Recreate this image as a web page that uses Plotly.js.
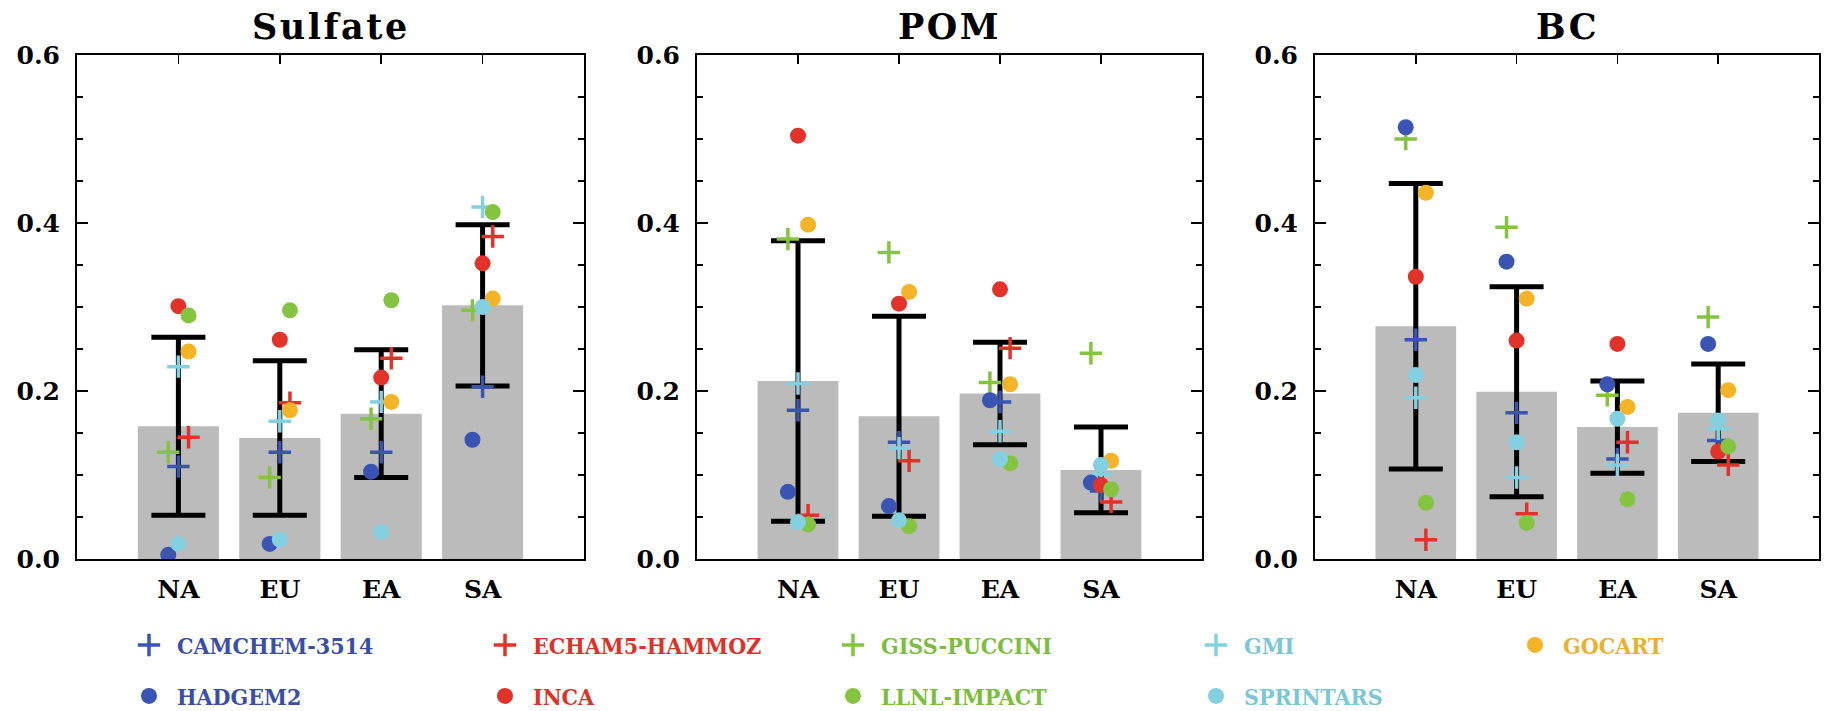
<!DOCTYPE html>
<html>
<head>
<meta charset="utf-8">
<script src="https://cdn.plot.ly/plotly-3.0.1.min.js"></script>
<style>html,body{margin:0;padding:0;background:#fff;}</style>
</head>
<body>
<div id="chart" style="width:1831px;height:711px;"></div>
<script>
// ---------------- DATA ----------------
const regions = ['NA', 'EU', 'EA', 'SA'];
const species = ['Sulfate', 'POM', 'BC'];
const models = ['CAMCHEM-3514', 'ECHAM5-HAMMOZ', 'GISS-PUCCINI', 'GMI', 'GOCART',
                'HADGEM2', 'INCA', 'LLNL-IMPACT', 'SPRINTARS'];

// multi-model mean (bars) and standard deviation (error bars)
const sulfateMean = [0.158, 0.144, 0.173, 0.302];
const sulfateStd  = [0.106, 0.092, 0.076, 0.096];
const pomMean     = [0.212, 0.170, 0.197, 0.106];
const pomStd      = [0.167, 0.119, 0.061, 0.051];
const bcMean      = [0.277, 0.199, 0.157, 0.174];
const bcStd       = [0.170, 0.125, 0.055, 0.058];

// individual models, Sulfate
const sulfateCAMCHEM   = [0.110, 0.127, 0.127, 0.205];
const sulfateECHAM5    = [0.145, 0.186, 0.239, 0.384];
const sulfateGISS      = [0.127, 0.097, 0.167, 0.296];
const sulfateGMI       = [0.229, 0.164, 0.187, 0.419];
const sulfateGOCART    = [0.247, 0.177, 0.187, 0.310];
const sulfateHADGEM2   = [0.005, 0.018, 0.104, 0.142];
const sulfateINCA      = [0.301, 0.261, 0.216, 0.352];
const sulfateLLNL      = [0.290, 0.296, 0.308, 0.413];
const sulfateSPRINTARS = [0.018, 0.023, 0.032, 0.300];

// individual models, POM
const pomCAMCHEM   = [0.177, 0.139, 0.187, 0.081];
const pomECHAM5    = [0.052, 0.117, 0.251, 0.068];
const pomGISS      = [0.381, 0.365, 0.210, 0.245];
const pomGMI       = [0.209, 0.132, 0.152, 0.101];
const pomGOCART    = [0.398, 0.318, 0.208, 0.117];
const pomHADGEM2   = [0.080, 0.063, 0.189, 0.091];
const pomINCA      = [0.504, 0.304, 0.321, 0.088];
const pomLLNL      = [0.041, 0.039, 0.114, 0.083];
const pomSPRINTARS = [0.044, 0.046, 0.119, 0.112];

// individual models, BC
const bcCAMCHEM   = [0.261, 0.174, 0.119, 0.141];
const bcECHAM5    = [0.023, 0.054, 0.139, 0.112];
const bcGISS      = [0.500, 0.395, 0.195, 0.288];
const bcGMI       = [0.192, 0.097, 0.112, 0.155];
const bcGOCART    = [0.436, 0.310, 0.181, 0.201];
const bcHADGEM2   = [0.514, 0.354, 0.208, 0.256];
const bcINCA      = [0.336, 0.260, 0.256, 0.128];
const bcLLNL      = [0.067, 0.043, 0.071, 0.134];
const bcSPRINTARS = [0.219, 0.139, 0.167, 0.165];

// ---------------- STYLE ----------------
const meanBySpecies = [sulfateMean, pomMean, bcMean];
const stdBySpecies  = [sulfateStd, pomStd, bcStd];
const modelValues = [
  [sulfateCAMCHEM, pomCAMCHEM, bcCAMCHEM],
  [sulfateECHAM5, pomECHAM5, bcECHAM5],
  [sulfateGISS, pomGISS, bcGISS],
  [sulfateGMI, pomGMI, bcGMI],
  [sulfateGOCART, pomGOCART, bcGOCART],
  [sulfateHADGEM2, pomHADGEM2, bcHADGEM2],
  [sulfateINCA, pomINCA, bcINCA],
  [sulfateLLNL, pomLLNL, bcLLNL],
  [sulfateSPRINTARS, pomSPRINTARS, bcSPRINTARS]
];
const markerColor = ['#3a54b4', '#e2332a', '#84c441', '#84d0e0', '#f4b427',
                     '#3a54b4', '#e2332a', '#84c441', '#84d0e0'];
const textColor   = ['#3b4ea6', '#d9342b', '#7dbd3e', '#7cc6d6', '#e9b12e',
                     '#3b4ea6', '#d9342b', '#7dbd3e', '#7cc6d6'];
const symbol      = ['cross-thin', 'cross-thin', 'cross-thin', 'cross-thin', 'circle',
                     'circle', 'circle', 'circle', 'circle'];
const xShift      = [0, 0.1, -0.1, 0, 0.1, -0.1, 0, 0.1, 0];
// legend slots (pixels)
const legX = [149, 505, 853, 1216, 1535, 149, 505, 853, 1216];
const legY = [645, 645, 645, 645, 645, 696, 696, 696, 696];

const W = 1831, H = 711;
const xDomains = [[77 / W, 584 / W], [697 / W, 1202 / W], [1315 / W, 1819 / W]];
const yDomain = [(H - 559) / H, (H - 55) / H];
const FONT = 'DejaVu Serif, Liberation Serif, serif';
const LEGFONT = 'DejaVu Serif Condensed, Liberation Serif, serif';

const traces = [];
species.forEach((sp, s) => {
  const xa = s === 0 ? 'x' : 'x' + (s + 1);
  const ya = s === 0 ? 'y' : 'y' + (s + 1);
  traces.push({
    type: 'bar', x: regions.map((r, i) => i), y: meanBySpecies[s],
    xaxis: xa, yaxis: ya, width: 0.8, showlegend: false, hoverinfo: 'skip',
    marker: {color: '#bbbbbb', line: {width: 0}},
    error_y: {type: 'data', array: stdBySpecies[s], visible: true,
              color: '#000000', thickness: 5, width: 27}
  });
});
species.forEach((sp, s) => {
  const xa = s === 0 ? 'x' : 'x' + (s + 1);
  const ya = s === 0 ? 'y' : 'y' + (s + 1);
  models.forEach((m, k) => {
    const isCross = symbol[k] === 'cross-thin';
    traces.push({
      type: 'scatter', mode: 'markers',
      x: regions.map((r, i) => i + xShift[k]), y: modelValues[k][s],
      xaxis: xa, yaxis: ya,
      name: '<span style="color:' + textColor[k] + '">' + m + '</span>',
      legendgroup: m, showlegend: s === 0,
      legend: k === 0 ? 'legend' : 'legend' + (k + 1),
      marker: isCross
        ? {symbol: 'cross-thin', size: 16, color: markerColor[k], line: {width: 3.5, color: markerColor[k]}}
        : {symbol: 'circle', size: 16, color: markerColor[k], line: {width: 0}}
    });
  });
});

const layout = {
  width: W, height: H,
  margin: {l: 0, r: 0, t: 0, b: 0, autoexpand: false},
  paper_bgcolor: '#ffffff', plot_bgcolor: '#ffffff',
  font: {family: FONT, color: '#000000'},
  annotations: [],
  showlegend: true
};
species.forEach((sp, s) => {
  const xk = s === 0 ? 'xaxis' : 'xaxis' + (s + 1);
  const yk = s === 0 ? 'yaxis' : 'yaxis' + (s + 1);
  const ya = s === 0 ? 'y' : 'y' + (s + 1);
  const xa = s === 0 ? 'x' : 'x' + (s + 1);
  layout[xk] = {
    domain: xDomains[s], anchor: ya, range: [-1, 4],
    tickmode: 'array', tickvals: regions.map((r, i) => i), ticktext: regions,
    ticks: 'inside', ticklen: 9, tickwidth: 1.5, tickcolor: '#000',
    showline: true, linewidth: 2, linecolor: '#000', mirror: 'allticks',
    showgrid: false, zeroline: false, layer: 'below traces',
    ticklabelstandoff: 7,
    tickfont: {family: FONT, size: 25, weight: 'bold', color: '#000'},
    fixedrange: true
  };
  layout[yk] = {
    domain: yDomain, anchor: xa, range: [0, 0.6],
    tickmode: 'linear', tick0: 0, dtick: 0.2, tickformat: '.1f',
    ticks: 'inside', ticklen: 11, tickwidth: 1.5, tickcolor: '#000',
    minor: {dtick: 0.05, ticks: 'inside', ticklen: 6, tickwidth: 1.5, tickcolor: '#000', showgrid: false},
    showline: true, linewidth: 2, linecolor: '#000', mirror: 'allticks',
    showgrid: false, zeroline: false, layer: 'below traces',
    ticklabelstandoff: 10,
    tickfont: {family: FONT, size: 25, weight: 'bold', color: '#000'},
    fixedrange: true
  };
  layout.annotations.push({
    xref: 'paper', yref: 'paper',
    x: (xDomains[s][0] + xDomains[s][1]) / 2, y: 1 - 26 / H,
    xanchor: 'center', yanchor: 'middle', showarrow: false,
    text: '<span style="letter-spacing:2.5px">' + sp + '</span>',
    font: {family: FONT, size: 35, weight: 'bold', color: '#000'}
  });
});
models.forEach((m, k) => {
  const key = k === 0 ? 'legend' : 'legend' + (k + 1);
  layout[key] = {
    xref: 'paper', yref: 'paper',
    x: (legX[k] - 28) / W, xanchor: 'left',
    y: 1 - legY[k] / H, yanchor: 'middle',
    orientation: 'h', bgcolor: 'rgba(0,0,0,0)', borderwidth: 0,
    itemwidth: 46,
    font: {family: LEGFONT, size: 23, weight: 'bold'},
    itemclick: false, itemdoubleclick: false
  };
});

Plotly.newPlot('chart', traces, layout, {displayModeBar: false, staticPlot: true});
</script>
</body>
</html>
